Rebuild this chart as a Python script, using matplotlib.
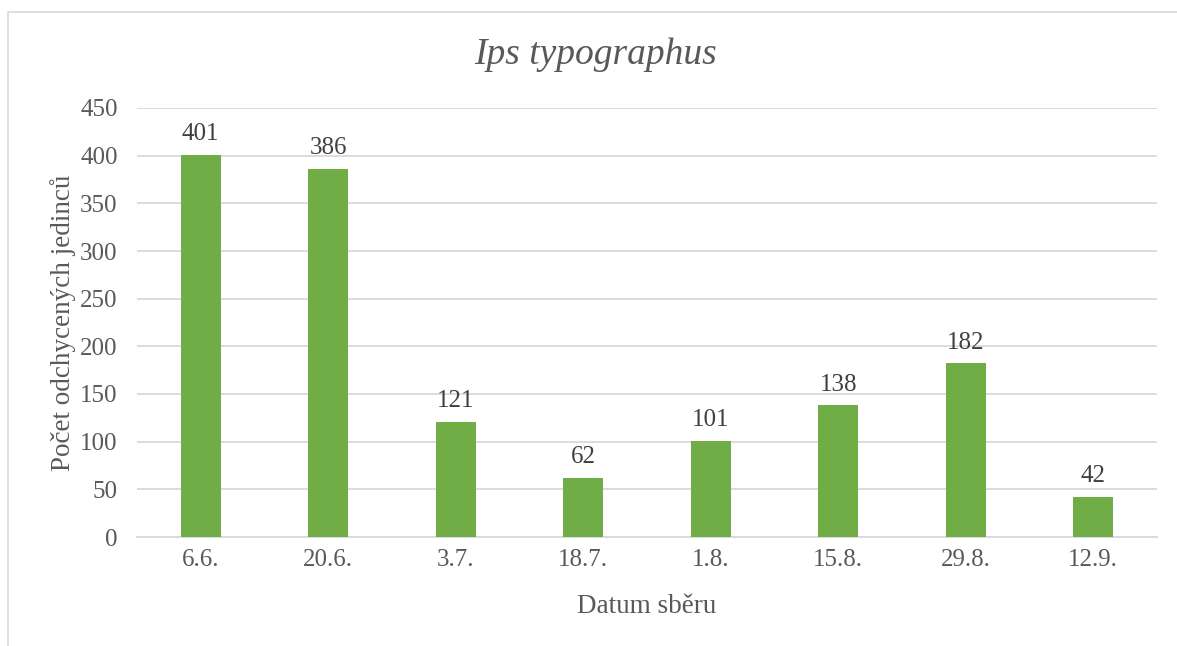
import matplotlib
matplotlib.use("Agg")
import matplotlib.pyplot as plt
from matplotlib.patches import Rectangle

categories = ["6.6.", "20.6.", "3.7.", "18.7.", "1.8.", "15.8.", "29.8.", "12.9."]
values = [401, 386, 121, 62, 101, 138, 182, 42]
yticks = [0, 50, 100, 150, 200, 250, 300, 350, 400, 450]

W, H = 1177, 646
fig = plt.figure(figsize=(W / 100, H / 100), dpi=100)
plt.rcParams['font.family'] = ['Liberation Serif', 'DejaVu Serif']
txt = '#595959'
grid = '#d9d9d9'

# outer chart border (extends past right/bottom edges)
fig.patches.append(Rectangle((8 / W, -0.1), 1.2, (H - 12) / H + 0.1,
                             transform=fig.transFigure, fill=False,
                             edgecolor='#d9d9d9', linewidth=1.2))

left, right = 137 / W, 1157 / W
bottom, top = 1 - 537 / H, 1 - 108 / H
ax = fig.add_axes([left, bottom, right - left, top - bottom])

x = list(range(len(categories)))
ax.bar(x, values, width=0.31, color='#70ad47', zorder=3)
for xi, v in zip(x, values):
    ax.annotate(str(v), (xi, v), xytext=(0, 7), textcoords='offset points',
                ha='center', va='bottom', fontsize=18, color='#404040')

ax.set_xlim(-0.5, len(categories) - 0.5)
ax.set_ylim(0, 450)
ax.set_yticks(yticks)
ax.set_xticks(x)
ax.set_xticklabels(categories)
ax.tick_params(axis='both', length=0, labelsize=18, labelcolor=txt)
ax.tick_params(axis='y', pad=14)
ax.tick_params(axis='x', pad=9)
ax.yaxis.grid(True, color=grid, linewidth=1.3, zorder=0)
for s in ['top', 'right', 'left']:
    ax.spines[s].set_visible(False)
ax.spines['bottom'].set_color(grid)
ax.spines['bottom'].set_linewidth(1.3)

ax.set_xlabel('Datum sběru', fontsize=19.5, color=txt, labelpad=16)
ax.set_ylabel('Počet odchycených jedinců', fontsize=19.5, color=txt, labelpad=3)

fig.text(596 / W, 1 - 55 / H, 'Ips typographus', ha='center', va='center',
         fontsize=27, style='italic', color=txt)

fig.savefig('out.png', dpi=100)
